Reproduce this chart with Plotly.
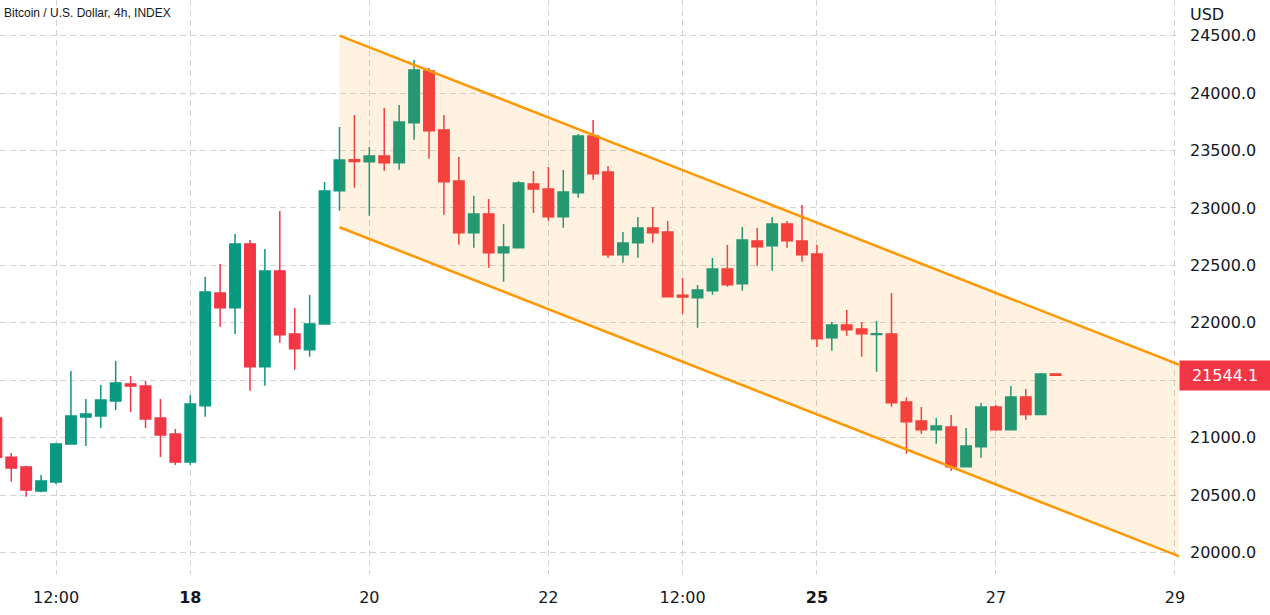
import pandas as pd
import plotly.graph_objects as go

# ---- data (BTC/USD, 4h bars) ----
start_time = "2022-07-15 20:00"
opens = [21172, 20830, 20745, 20537, 20615, 20946, 21181, 21189, 21320, 21468,
         21450, 21172, 21033, 20789, 21279, 22260, 22132, 22686, 21618, 22451,
         21903, 21766, 21990, 23150, 23420, 23402, 23452, 23394, 23742, 24192,
         23678, 23235, 22785, 22947, 22610, 22654, 23208, 23165, 22924, 23133,
         23626, 23313, 22593, 22698, 22825, 22790, 22240, 22219, 22280, 22469,
         22341, 22712, 22671, 22860, 22712, 22599, 21871, 21981, 21946, 21898,
         21903, 21311, 21146, 21070, 21094, 20748, 20922, 21268, 21070, 21355,
         21201, 21555]
highs = [21200, 20867, 20757, 20676, 20957, 21581, 21337, 21459, 21668, 21537,
         21494, 21337, 21076, 21372, 22399, 22512, 22773, 22721, 22643, 22973,
         22129, 22242, 23226, 23705, 23809, 23530, 23870, 23896, 24288, 24218,
         23809, 23443, 23107, 23078, 22860, 23235, 23322, 23356, 23330, 23644,
         23765, 23365, 22791, 22921, 23008, 22886, 22390, 22329, 22564, 22678,
         22834, 22825, 22921, 22886, 23026, 22678, 22007, 22112, 22007, 22016,
         22260, 21349, 21268, 21172, 21198, 21085, 21303, 21285, 21450, 21424,
         21564, 21556]
lows = [20800, 20617, 20487, 20525, 20597, 20940, 20928, 21085, 21242, 21224,
        21085, 20833, 20763, 20763, 21183, 21966, 21903, 21409, 21453, 21827,
        21592, 21705, 21985, 22976, 23176, 22932, 23324, 23333, 23594, 23429,
        22941, 22680, 22654, 22480, 22358, 22650, 22956, 22889, 22828, 23089,
        23246, 22567, 22523, 22567, 22698, 22225, 22080, 21958, 22245, 22315,
        22280, 22497, 22454, 22654, 22532, 21790, 21758, 21888, 21705, 21575,
        21270, 20861, 21035, 20948, 20713, 20745, 20826, 21061, 21068, 21157,
        21198, 21544.1]
closes = [20830, 20737, 20545, 20624, 20946, 21189, 21207, 21329, 21477, 21450,
          21163, 21024, 20789, 21294, 22268, 22132, 22686, 21618, 22451, 21897,
          21775, 21990, 23147, 23417, 23405, 23452, 23394, 23748, 24201, 23672,
          23228, 22785, 22947, 22610, 22660, 23217, 23165, 22924, 23139, 23626,
          23298, 22593, 22695, 22825, 22785, 22228, 22225, 22286, 22469, 22332,
          22721, 22663, 22860, 22715, 22593, 21862, 21981, 21940, 21905, 21905,
          21305, 21140, 21070, 21102, 20748, 20928, 21268, 21070, 21355, 21201,
          21555, 21544.1]
times = pd.date_range(start=start_time, periods=len(opens), freq="4h")

# parallel channel drawing
channel_times = ["2022-07-19 16:00", "2022-07-29 04:00"]
channel_upper = [24500, 21599]
channel_lower = [22832, 19931]

last_price = 21544.1

tick_times = ["2022-07-16 12:00", "2022-07-18", "2022-07-20", "2022-07-22",
              "2022-07-23 12:00", "2022-07-25", "2022-07-27", "2022-07-29"]
tick_labels = ["12:00", "<b>18</b>", "20", "22", "12:00", "<b>25</b>", "27", "29"]

price_ticks = [20000, 20500, 21000, 21500, 22000, 22500, 23000, 23500, 24000, 24500]
price_labels = ["20000.0", "20500.0", "21000.0", "", "22000.0", "22500.0",
                "23000.0", "23500.0", "24000.0", "24500.0"]  # 21500.0 hidden under last-price tag

x_range = ["2022-07-15 20:59", "2022-07-29 01:05"]
y_range = [19805, 24810]

# ---- styles ----
GREEN = "#089981"
RED = "#f23645"
ORANGE = "#ff9800"
TEXT = "#131722"
GRID = "#d3d3d3"
FONT = "DejaVu Sans"

fig = go.Figure()

fig.add_trace(go.Scatter(x=channel_times, y=channel_lower, mode="lines",
                         line=dict(color=ORANGE, width=2.5), hoverinfo="skip",
                         showlegend=False))
fig.add_trace(go.Scatter(x=channel_times, y=channel_upper, mode="lines",
                         line=dict(color=ORANGE, width=2.5), fill="tonexty",
                         fillcolor="rgba(255,152,0,0.12)", hoverinfo="skip",
                         showlegend=False))

fig.add_trace(go.Candlestick(
    x=times, open=opens, high=highs, low=lows, close=closes,
    increasing=dict(line=dict(color=GREEN, width=1.5), fillcolor=GREEN),
    decreasing=dict(line=dict(color=RED, width=1.5), fillcolor=RED),
    showlegend=False))

fig.update_layout(
    width=1270, height=615,
    margin=dict(l=0, r=91, t=0, b=40),
    paper_bgcolor="white", plot_bgcolor="white",
    font=dict(family=FONT, size=16, color=TEXT),
    boxgap=0.3, boxgroupgap=0,
    showlegend=False,
)
fig.update_xaxes(
    type="date", range=x_range, rangeslider_visible=False,
    tickmode="array", tickvals=tick_times, ticktext=tick_labels,
    showgrid=True, gridcolor=GRID, griddash="6px,4px", gridwidth=1,
    zeroline=False, showline=False, ticks="", ticklabelstandoff=11,
    tickfont=dict(family=FONT, size=16, color=TEXT),
)
fig.update_yaxes(
    side="right", range=y_range, tickmode="array", tickvals=price_ticks,
    ticktext=price_labels,
    showgrid=True, gridcolor=GRID, griddash="6px,4px", gridwidth=1,
    zeroline=False, showline=False, ticks="", ticklabelstandoff=10,
    tickfont=dict(family=FONT, size=16, color=TEXT),
)

fig.add_annotation(text="Bitcoin / U.S. Dollar, 4h, INDEX", xref="paper", yref="paper",
                   x=0, y=1, xanchor="left", yanchor="top", xshift=2, yshift=-4,
                   showarrow=False, font=dict(family="Liberation Sans", size=12, color=TEXT))
fig.add_annotation(text="USD", xref="paper", yref="paper", x=1, y=1,
                   xanchor="left", yanchor="top", xshift=9, yshift=-3,
                   showarrow=False, font=dict(family=FONT, size=16, color=TEXT))
fig.add_annotation(text=f"{last_price:.1f}", xref="paper", yref="y",
                   x=1, y=last_price, xanchor="left", yanchor="middle",
                   showarrow=False, bgcolor=RED, width=88, height=27,
                   align="center", font=dict(family=FONT, size=16, color="white"))

fig.write_html("out.html")
